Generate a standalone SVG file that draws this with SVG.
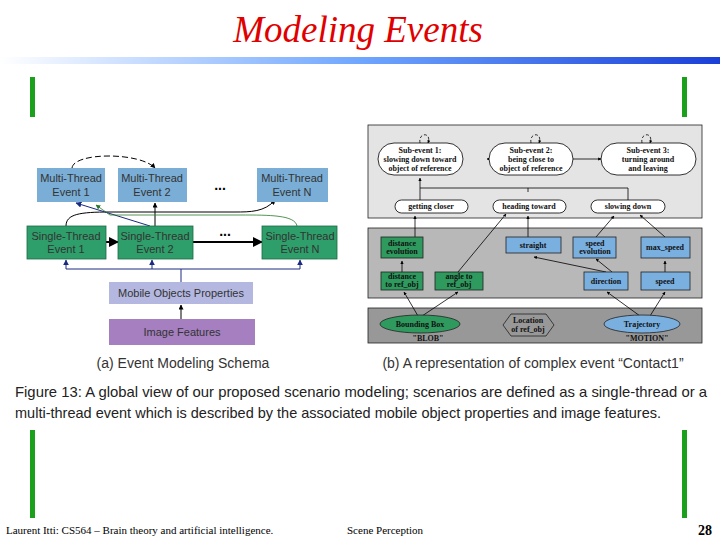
<svg xmlns="http://www.w3.org/2000/svg" width="720" height="540" viewBox="0 0 720 540">
<defs>
<linearGradient id="bar" x1="0" x2="1"><stop offset="0" stop-color="#ffffff"/><stop offset="0.5" stop-color="#6fa6ff"/><stop offset="1" stop-color="#1a3fd8"/></linearGradient>
<marker id="ah" viewBox="0 0 10 10" refX="9" refY="5" markerWidth="5" markerHeight="5" orient="auto"><path d="M0,0L10,5L0,10z" fill="#000"/></marker>
<marker id="ab" viewBox="0 0 10 10" refX="9" refY="5" markerWidth="6" markerHeight="6" orient="auto"><path d="M0,0L10,5L0,10z" fill="#1a2a80"/></marker>
<marker id="ag" viewBox="0 0 10 10" refX="9" refY="5" markerWidth="6" markerHeight="6" orient="auto"><path d="M0,0L10,5L0,10z" fill="#2a7a2a"/></marker>
<marker id="ak" viewBox="0 0 10 10" refX="9" refY="5" markerWidth="4" markerHeight="4" orient="auto"><path d="M0,0L10,5L0,10z" fill="#000"/></marker>
</defs>
<style>
.s{font-family:"Liberation Sans",Arial,sans-serif;font-size:11px;fill:#333;text-anchor:middle}
.r{font-family:"Liberation Serif",serif;font-size:8px;font-weight:bold;fill:#111;text-anchor:middle}
.mt{fill:#7aaed6}.st{fill:#2e9e6a;stroke:#1d6a45;stroke-width:0.8}
.bx{fill:#7ab0e0;stroke:#222;stroke-width:0.8}.gx{fill:#2e9a5e;stroke:#222;stroke-width:0.8}
.w{fill:#fff;stroke:#000;stroke-width:0.8}
.c{stroke:#000;stroke-width:0.8;fill:none;marker-end:url(#ak)}
.bl{stroke:#1a2a80;stroke-width:1;fill:none}
</style>
<rect width="720" height="540" fill="#fff"/>
<text x="358" y="42" text-anchor="middle" font-family="Liberation Serif,serif" font-style="italic" font-size="37" fill="#e00000">Modeling Events</text>
<rect x="0" y="57" width="720" height="7" fill="url(#bar)"/>
<g fill="#1aa01a"><rect x="30" y="77" width="5" height="40"/><rect x="682" y="77" width="5" height="40"/><rect x="30" y="430" width="5" height="88"/><rect x="682" y="430" width="5" height="88"/></g>

<g id="left-connectors">
<path d="M72,168 C74,152 140,152 155,168" stroke="#000" fill="none" stroke-dasharray="6,3" marker-end="url(#ah)"/>
<path d="M66,226 C66,214 80,212 110,212 L235,212 C250,212 265,212 275,200" stroke="#000" fill="none" marker-end="url(#ah)"/>
<path d="M155,226 L155,203" stroke="#000" marker-end="url(#ah)"/>
<path d="M150,226 L76,203" class="bl" marker-end="url(#ab)"/>
<path d="M297,226 C295,215 270,215 240,215 L110,215 L96,205" stroke="#2a7a2a" stroke-width="0.8" fill="none" marker-end="url(#ag)"/>
<path d="M106,242 L118,242" stroke="#000" stroke-width="2" marker-end="url(#ah)"/>
<path d="M193,242 L262,242" stroke="#000" stroke-width="2" marker-end="url(#ah)"/>
<path d="M181,282 L181,269 L66,269 M181,269 L300,269" class="bl"/>
<path d="M66,269 L66,260" class="bl" marker-end="url(#ab)"/>
<path d="M152,269 L152,260" class="bl" marker-end="url(#ab)"/>
<path d="M300,269 L300,260" class="bl" marker-end="url(#ab)"/>
<path d="M181,319 L181,305" stroke="#000" marker-end="url(#ah)"/>
</g>
<g id="mt1"><rect class="mt" x="37" y="168" width="68" height="34"/><text class="s" x="71" y="182">Multi-Thread</text><text class="s" x="71" y="196">Event 1</text></g>
<g id="mt2"><rect class="mt" x="118" y="168" width="69" height="34"/><text class="s" x="152" y="182">Multi-Thread</text><text class="s" x="152" y="196">Event 2</text></g>
<g id="mtn"><rect class="mt" x="257" y="168" width="71" height="34"/><text class="s" x="292" y="182">Multi-Thread</text><text class="s" x="292" y="196">Event N</text></g>
<text x="220" y="190" font-family="Liberation Sans,sans-serif" font-size="14" font-weight="bold" text-anchor="middle">...</text>
<g id="st1"><rect class="st" x="27" y="226" width="79" height="33"/><text class="s" x="66" y="240">Single-Thread</text><text class="s" x="66" y="253">Event 1</text></g>
<g id="st2"><rect class="st" x="118" y="226" width="75" height="33"/><text class="s" x="155" y="240">Single-Thread</text><text class="s" x="155" y="253">Event 2</text></g>
<g id="stn"><rect class="st" x="262" y="226" width="75" height="33"/><text class="s" x="300" y="240">Single-Thread</text><text class="s" x="300" y="253">Event N</text></g>
<text x="225" y="236" font-family="Liberation Sans,sans-serif" font-size="14" font-weight="bold" text-anchor="middle">...</text>
<g id="mop"><rect x="109" y="282" width="144" height="22" fill="#b4b8e0"/><text class="s" x="181" y="297">Mobile Objects Properties</text></g>
<g id="imf"><rect x="109" y="319" width="146" height="26" fill="#a57fc0"/><text class="s" x="182" y="336">Image Features</text></g>
<text x="183" y="368" font-family="Liberation Sans,sans-serif" font-size="14" fill="#333" text-anchor="middle">(a) Event Modeling Schema</text>

<rect x="368" y="125" width="334" height="93" fill="#e4e4e4" stroke="#222" stroke-width="0.8"/>
<rect x="368" y="228" width="334" height="70" fill="#b8b8b8" stroke="#222" stroke-width="0.8"/>
<rect x="368" y="308" width="334" height="35" fill="#989898" stroke="#222" stroke-width="0.8"/>
<g id="right-connectors">
<path d="M420,143 C418,132 432,132 428,143" class="c" stroke-dasharray="3,2"/>
<path d="M531,143 C529,132 543,132 539,143" class="c" stroke-dasharray="3,2"/>
<path d="M642,143 C640,132 654,132 650,143" class="c" stroke-dasharray="3,2"/>
<path d="M573,159 L601,159" class="c"/>
<path d="M489,159 L487,159" class="c"/>
<path d="M420,200 L420,178" class="c"/>
<path d="M420,188 L628,188 L628,200 M528,188 L528,192"  stroke="#000" stroke-width="0.8" fill="none"/>
<path d="M415,237 L415,216" class="c"/>
<path d="M528,237 L528,216" class="c"/>
<path d="M458,272 L506,214" class="c"/>
<path d="M596,237 L614,216" class="c"/>
<path d="M665,237 L640,215" class="c"/>
<path d="M402,272 L402,261" class="c"/>
<path d="M606,272 L534,257" class="c"/>
<path d="M612,272 L596,259" class="c"/>
<path d="M665,272 L665,261" class="c"/>
<path d="M418,316 L404,292" class="c"/>
<path d="M422,316 L458,292" class="c"/>
<path d="M640,316 L607,292" class="c"/>
<path d="M650,316 L665,292" class="c"/>
</g>
<g id="se1"><rect class="w" x="378" y="143" width="85" height="32" rx="16"/><text class="r" x="420" y="153">Sub-event 1:</text><text class="r" x="420" y="162">slowing down toward</text><text class="r" x="420" y="171">object of reference</text></g>
<g id="se2"><rect class="w" x="489" y="143" width="84" height="32" rx="16"/><text class="r" x="531" y="153">Sub-event 2:</text><text class="r" x="531" y="162">being close to</text><text class="r" x="531" y="171">object of reference</text></g>
<g id="se3"><rect class="w" x="601" y="143" width="95" height="32" rx="16"/><text class="r" x="648" y="153">Sub-event 3:</text><text class="r" x="648" y="162">turning around</text><text class="r" x="648" y="171">and leaving</text></g>
<g id="gc"><rect class="w" x="395" y="200" width="73" height="13" rx="6.5"/><text class="r" x="431" y="209">getting closer</text></g>
<g id="ht"><rect class="w" x="493" y="200" width="73" height="13" rx="6.5"/><text class="r" x="529" y="209">heading toward</text></g>
<g id="sd"><rect class="w" x="591" y="200" width="74" height="13" rx="6.5"/><text class="r" x="628" y="209">slowing down</text></g>
<g id="de"><rect class="gx" x="381" y="237" width="42" height="21"/><text class="r" x="402" y="246">distance</text><text class="r" x="402" y="254">evolution</text></g>
<g id="stt"><rect class="bx" x="506" y="237" width="55" height="16"/><text class="r" x="533" y="248">straight</text></g>
<g id="spe"><rect class="bx" x="573" y="237" width="43" height="21"/><text class="r" x="595" y="246">speed</text><text class="r" x="595" y="254">evolution</text></g>
<g id="ms"><rect class="bx" x="641" y="237" width="49" height="21"/><text class="r" x="665" y="250">max_speed</text></g>
<g id="dr"><rect class="gx" x="381" y="272" width="42" height="18"/><text class="r" x="402" y="279">distance</text><text class="r" x="402" y="287">to ref_obj</text></g>
<g id="ar"><rect class="gx" x="435" y="272" width="48" height="18"/><text class="r" x="459" y="279">angle to</text><text class="r" x="459" y="287">ref_obj</text></g>
<g id="dir"><rect class="bx" x="584" y="272" width="44" height="18"/><text class="r" x="606" y="284">direction</text></g>
<g id="spd"><rect class="bx" x="641" y="272" width="49" height="18"/><text class="r" x="665" y="284">speed</text></g>
<g id="bb"><ellipse cx="420" cy="324" rx="40" ry="9" fill="#2e9a5e" stroke="#222" stroke-width="0.8"/><text class="r" x="420" y="327">Bounding Box</text><text class="r" x="428" y="341">"BLOB"</text></g>
<g id="loc"><path d="M503,325 L511,314 L546,314 L554,325 L546,336 L511,336Z" fill="none" stroke="#222" stroke-width="0.8"/><text class="r" x="528" y="323">Location</text><text class="r" x="528" y="332">of ref_obj</text></g>
<g id="tr"><ellipse cx="642" cy="324" rx="38" ry="9" fill="#7ab0e0" stroke="#222" stroke-width="0.8"/><text class="r" x="642" y="327">Trajectory</text><text class="r" x="647" y="341">"MOTION"</text></g>
<text x="533" y="368" font-family="Liberation Sans,sans-serif" font-size="14" fill="#333" text-anchor="middle">(b) A representation of complex event “Contact1”</text>
<text x="15" y="397" font-family="Liberation Sans,sans-serif" font-size="15" fill="#222" textLength="692" lengthAdjust="spacingAndGlyphs">Figure 13: A global view of our proposed scenario modeling; scenarios are defined as a single-thread or a</text>
<text x="15" y="418" font-family="Liberation Sans,sans-serif" font-size="15" fill="#222" textLength="646" lengthAdjust="spacingAndGlyphs">multi-thread event which is described by the associated mobile object properties and image features.</text>
<text x="6" y="534" font-family="Liberation Serif,serif" font-size="11">Laurent Itti: CS564 – Brain theory and artificial intelligence.</text>
<text x="347" y="534" font-family="Liberation Serif,serif" font-size="11">Scene Perception</text>
<text x="712" y="535" text-anchor="end" font-family="Liberation Serif,serif" font-size="14" font-weight="bold">28</text>
</svg>
